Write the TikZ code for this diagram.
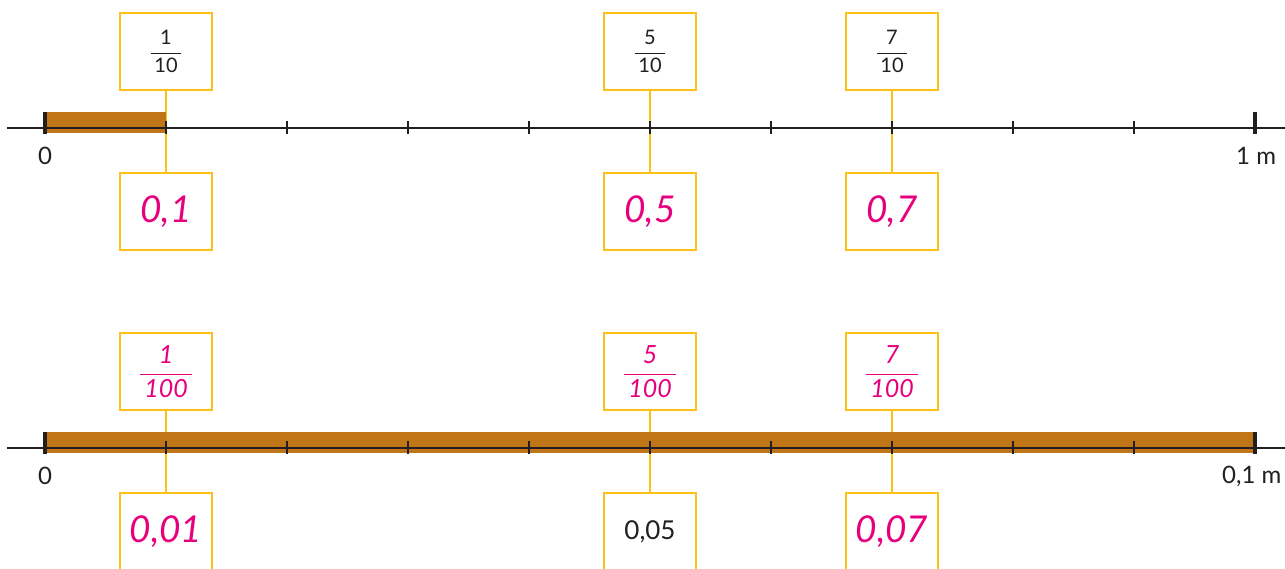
\documentclass[tikz,border=0pt]{standalone}
\usepackage{amsmath}
\usepackage{fontspec}
\setmainfont{Lato}
\definecolor{ybox}{RGB}{253,192,20}
\definecolor{barc}{RGB}{192,118,22}
\definecolor{pinkc}{RGB}{230,0,126}
\definecolor{txt}{RGB}{35,31,32}
\newcommand{\fr}[2]{$\dfrac{\text{#1}}{\text{\,#2\,}}$}
\begin{document}
\begin{tikzpicture}[x=1pt,y=-1pt,
  box/.style={draw=ybox,line width=2.8pt,minimum width=92pt,minimum height=77pt,inner sep=0pt,fill=white,text=txt},
  fractxt/.style={font=\fontsize{20}{24}\selectfont},
  pfractxt/.style={font=\fontsize{25}{28}\selectfont\itshape,text=pinkc},
  pinktxt/.style={font=\fontsize{37}{40}\selectfont\itshape,text=pinkc},
  plaintxt/.style={font=\fontsize{26}{30}\selectfont,text=txt},
  conn/.style={draw=ybox,line width=2.8pt},
  axisline/.style={draw=txt,line width=2.8pt},
  smalltick/.style={draw=txt,line width=1.8pt},
  endtick/.style={draw=txt,line width=4pt},
  axlabel/.style={font=\fontsize{24}{26}\selectfont,text=txt,inner sep=0pt}]
\useasboundingbox (0,0) rectangle (1285,568);
% top row boxes
\node[box,fractxt] (a1) at (166,51.5) {\fr{1}{10}};
\node[box,fractxt] (a5) at (650,51.5) {\fr{5}{10}};
\node[box,fractxt] (a7) at (892,51.5) {\fr{7}{10}};
\node[box,pinktxt] (b1) at (166,211.5) {0,1};
\node[box,pinktxt] (b5) at (650,211.5) {0,5};
\node[box,pinktxt] (b7) at (892,211.5) {0,7};
% bottom row boxes
\node[box,pfractxt] (c1) at (166,371.5) {\fr{1}{100}};
\node[box,pfractxt] (c5) at (650,371.5) {\fr{5}{100}};
\node[box,pfractxt] (c7) at (892,371.5) {\fr{7}{100}};
\node[box,pinktxt] (d1) at (166,531.5) {0,01};
\node[box,plaintxt] (d5) at (650,531.5) {0,05};
\node[box,pinktxt] (d7) at (892,531.5) {0,07};
% connectors
\draw[conn] (a1) -- (b1);
\draw[conn] (a5) -- (b5);
\draw[conn] (a7) -- (b7);
\draw[conn] (c1) -- (d1);
\draw[conn] (c5) -- (d5);
\draw[conn] (c7) -- (d7);
% bars
\fill[barc] (45,112) rectangle (166,133);
\fill[barc] (45,432) rectangle (1255,453);
% axes
\draw[axisline] (7,128) -- (1285,128);
\draw[axisline] (7,448) -- (1285,448);
\foreach \i in {1,...,9}{
  \draw[smalltick] (45+121*\i,121) -- (45+121*\i,134);
  \draw[smalltick] (45+121*\i,441) -- (45+121*\i,454);
}
\draw[endtick] (45,112) -- (45,134);
\draw[endtick] (1255,112) -- (1255,134);
\draw[endtick] (45,432) -- (45,454);
\draw[endtick] (1255,432) -- (1255,454);
% labels
\node[axlabel] (z1) at (45,156) {0};
\node[axlabel,anchor=west] (m1) at (1236,156) {1 m};
\node[axlabel] (z2) at (45,476) {0};
\node[axlabel,anchor=west] (m2) at (1222,476) {0,1 m};
\end{tikzpicture}
\end{document}
